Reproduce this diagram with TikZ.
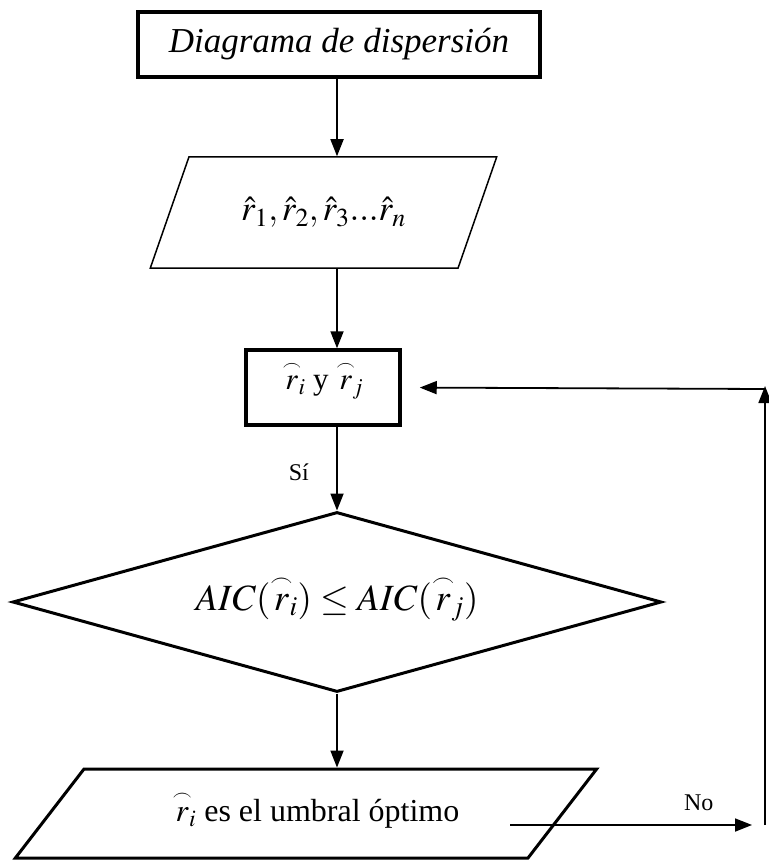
\documentclass[tikz,border=0pt]{standalone}
\usepackage{amsmath}
\usepackage{mathptmx}
\usepackage{fontspec}
\setmainfont{Liberation Serif}
\usetikzlibrary{shapes.geometric,arrows.meta,positioning}
\newcommand{\ar}[1]{\smash{\overset{\scriptscriptstyle\frown}{r}}\vphantom{r}_{\!#1}}
\begin{document}
\begin{tikzpicture}[x=1pt, y=-1pt,
  main/.style = {draw, line width=3.5pt, inner sep=0pt},
  io/.style = {draw, trapezium, trapezium stretches=true, inner sep=0pt},
  dec/.style = {draw, diamond, aspect=3.6, line width=3pt, inner sep=0pt, minimum width=649pt, minimum height=180pt},
  arr/.style = {line width=1.8pt, -{Triangle[length=17pt,width=13pt]}}]
\useasboundingbox (0,0) rectangle (768,861);

\node[main, minimum width=402pt, minimum height=65pt] (1) at (339,44.5) {\fontsize{35}{40}\selectfont\itshape Diagrama de dispersi\'on};
\node[io, line width=1.5pt, trapezium left angle=52, trapezium right angle=128, minimum width=347pt, minimum height=111pt] (2) at (323.5,212.5) {\fontsize{35}{38}\selectfont $\hat{r}_1,\hat{r}_2,\hat{r}_3...\hat{r}_n$};
\node[main, minimum width=154pt, minimum height=75pt] (3) at (323,387.5) {\fontsize{31}{34}\selectfont $\ar{i}$ y $\ar{j}$};
\node[dec] (4) at (337,602) {\fontsize{37}{42}\selectfont $AIC(\ar{i})\leq AIC(\ar{j})$};
\node[io, line width=3pt, trapezium left angle=31.5, trapezium right angle=148.5, minimum width=582pt, minimum height=89pt] (5) at (306,813.5) {\fontsize{32}{36}\selectfont\hspace*{20pt}\raisebox{-8pt}{$\ar{i}$ es el umbral \'optimo}};

\coordinate (a) at (337,0);
\coordinate (n) at (510,825);
\coordinate (e) at (765,825);
\coordinate (u) at (765,389);

\draw[arr] (a |- 1.south) -- (a |- 2.north);
\draw[arr] (a |- 2.south) -- (a |- 3.north);
\draw[arr] (a |- 3.south) -- node[pos=0.54, left=24pt] {\fontsize{24}{28}\selectfont S\'i} (4.north);
\draw[arr] (4.south) -- (a |- 5.north);
\draw[arr, shorten >=13pt] (n) -- node[pos=0.74, above=10pt] {\fontsize{24}{28}\selectfont No} (e);
\draw[arr, shorten >=-3pt] (e) -- (u);
\draw[arr, shorten >=18pt] (u) -- (3.east);

\end{tikzpicture}
\end{document}
